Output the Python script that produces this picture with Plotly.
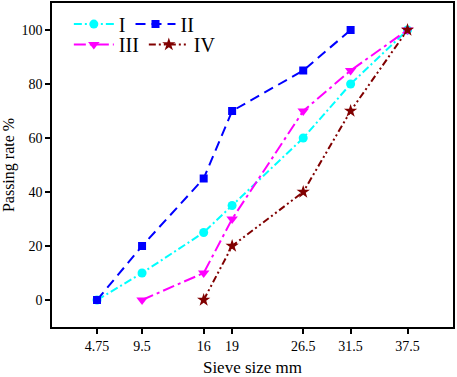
import plotly.graph_objects as go

sieve_ticks = [4.75, 9.5, 16, 19, 26.5, 31.5, 37.5]
tick_labels = ["4.75", "9.5", "16", "19", "26.5", "31.5", "37.5"]

x_I = [4.75, 9.5, 16, 19, 26.5, 31.5, 37.5]
y_I = [0, 10, 25, 35, 60, 80, 100]

x_II = [4.75, 9.5, 16, 19, 26.5, 31.5]
y_II = [0, 20, 45, 70, 85, 100]

x_III = [9.5, 16, 19, 26.5, 31.5, 37.5]
y_III = [0, 10, 30, 70, 85, 100]

x_IV = [16, 19, 26.5, 31.5, 37.5]
y_IV = [0, 20, 40, 70, 100]

FONT = "Liberation Serif, Times New Roman, serif"

fig = go.Figure()
fig.add_trace(go.Scatter(x=x_I, y=y_I, name="I", mode="lines+markers",
                         line=dict(color="#00FFFF", width=2, dash="8px,3px,2px,3px"),
                         marker=dict(symbol="circle", size=9, color="#00FFFF"),
                         legend="legend"))
fig.add_trace(go.Scatter(x=x_II, y=y_II, name="II", mode="lines+markers",
                         line=dict(color="#0000FF", width=2, dash="10px,6px"),
                         marker=dict(symbol="square", size=8, color="#0000FF"),
                         legend="legend"))
fig.add_trace(go.Scatter(x=x_III, y=y_III, name="III", mode="lines+markers",
                         line=dict(color="#FF00FF", width=2, dash="12px,4px,3px,4px"),
                         marker=dict(symbol="triangle-down", size=10, color="#FF00FF"),
                         legend="legend2"))
fig.add_trace(go.Scatter(x=x_IV, y=y_IV, name="IV", mode="lines+markers",
                         line=dict(color="#800000", width=2, dash="7px,3px,2px,3px,2px,3px"),
                         marker=dict(symbol="star", size=10, color="#800000"),
                         legend="legend2"))

fig.update_layout(
    width=457, height=377,
    margin=dict(l=52, r=4, t=3, b=50),
    plot_bgcolor="white", paper_bgcolor="white",
    font=dict(family=FONT, size=14, color="black"),
    xaxis=dict(range=[0, 42.3], tickvals=sieve_ticks, ticktext=tick_labels,
               showgrid=False, zeroline=False, showline=True, linecolor="black",
               linewidth=1.5, mirror=True, ticks="outside", ticklen=5,
               tickcolor="black", tickwidth=1.5, automargin=False,
               title=dict(text="Sieve size mm", font=dict(size=17), standoff=10)),
    yaxis=dict(range=[-10, 110], tickvals=[0, 20, 40, 60, 80, 100],
               showgrid=False, zeroline=False, showline=True, linecolor="black",
               linewidth=1.5, mirror=True, ticks="outside", ticklen=5,
               tickcolor="black", tickwidth=1.5, automargin=False,
               title=dict(text="Passing rate %", font=dict(size=16), standoff=6)),
    legend=dict(orientation="h", x=0.042, y=0.935, xanchor="left", yanchor="middle",
                bgcolor="rgba(0,0,0,0)", font=dict(size=20), itemwidth=40),
    legend2=dict(orientation="h", x=0.042, y=0.872, xanchor="left", yanchor="middle",
                 bgcolor="rgba(0,0,0,0)", font=dict(size=20), itemwidth=40),
    showlegend=True,
)

fig.write_html("out.html", config={"displayModeBar": False},
               post_script="document.body.style.margin='0';document.body.style.overflow='hidden';")
